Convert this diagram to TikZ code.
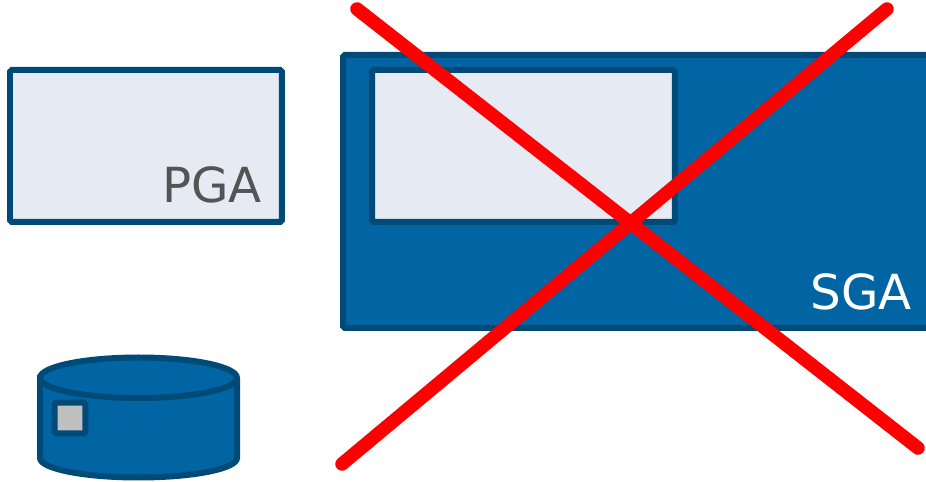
\documentclass[tikz,border=0pt]{standalone}
\usepackage{fontspec}
\setmainfont{DejaVu Sans}
\usetikzlibrary{positioning}
\definecolor{memblue}{HTML}{0065A2}
\definecolor{memedge}{HTML}{004A78}
\definecolor{memlight}{HTML}{E6EAF3}
\definecolor{memgrey}{HTML}{C0C0C0}
\begin{document}
\begin{tikzpicture}[
        x=0.02cm, y=-0.02cm,
        area/.style={draw=memedge, line width=0.12cm, rounded corners=1pt,
                     inner sep=0pt, outer sep=0pt, anchor=north west},
        lightarea/.style={area, fill=memlight, minimum width=5.44cm, minimum height=3.04cm},
        areaname/.style={font=\fontsize{27.5}{28}\selectfont, inner sep=0pt},
        cross/.style={red, line width=0.27cm, line cap=round}
      ]
        \useasboundingbox (0,0) rectangle (926,482);
        \clip (0,0) rectangle (926,482);

        \node[lightarea] (pga) at (10,70) {};
        \node[areaname, text=black!67, anchor=base east] (pganame) at (262,203) {PGA};

        \node[area, fill=memblue, minimum width=12cm, minimum height=5.46cm] (sga) at (343,55) {};
        \node[lightarea, minimum width=6.06cm] (sgainner) at (372,70) {};
        \node[areaname, text=white, anchor=base east] (sganame) at (912,310) {SGA};

        % disk
        \draw[memedge, line width=0.12cm, fill=memblue]
          (40,378) -- (40,458) arc[start angle=180, end angle=360, x radius=98.5, y radius=-19.5]
          -- (237,378) arc[start angle=0, end angle=180, x radius=98.5, y radius=-20.5] -- cycle;
        \draw[memedge, line width=0.12cm]
          (40,378) arc[start angle=180, end angle=360, x radius=98.5, y radius=-20];
        \node[draw=memedge, fill=memgrey, line width=0.12cm, rounded corners=1pt, inner sep=0pt,
              outer sep=0pt, minimum size=0.62cm] (block) at (70,418) {};

        \coordinate (crossa) at (357,9);
        \coordinate (crossb) at (918,448);
        \coordinate (crossc) at (887,9);
        \coordinate (crossd) at (342,464);
        \draw[cross] (crossa) -- (crossb);
        \draw[cross] (crossc) -- (crossd);
      \end{tikzpicture}
\end{document}
